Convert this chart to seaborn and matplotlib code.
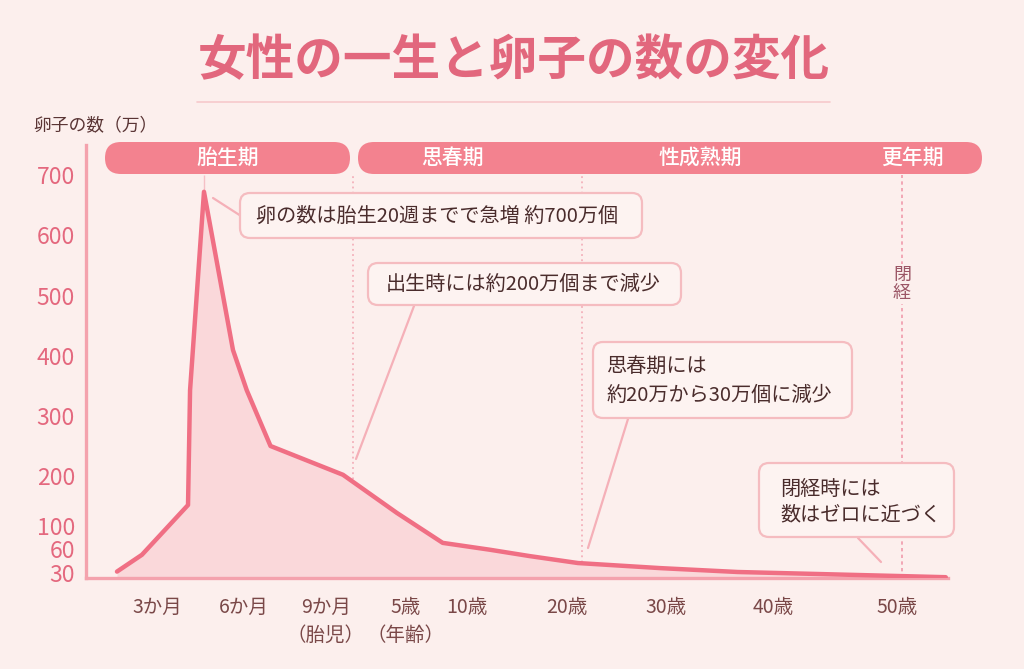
import numpy as np
import matplotlib
matplotlib.use("Agg")
import matplotlib.pyplot as plt
import seaborn as sns
from matplotlib.patches import FancyBboxPatch
from matplotlib.lines import Line2D
from matplotlib.transforms import IdentityTransform, ScaledTranslation

# ---------------- data ----------------
# timeline unit: fetal month (1..9), birth = 10, after birth = 10 + age in years
TIMELINE = [1.62, 2.48, 4.07, 4.14, 4.62, 5.62, 6.10, 6.97, 9.63, 14.15,
            18.4, 22.8, 26.5, 31.1, 39.4, 46.7, 56.2, 64.6]
EGGS_MAN = [28, 54, 142, 343, 672, 410, 343, 250, 202, 126,
            73, 62, 52, 41, 33, 27.5, 24, 21]  # 単位: 万

X_TICKS = [3, 6, 9, 15, 20, 30, 40, 50, 60]
X_LABELS = ["3か月", "6か月", "9か月\n（胎児）", "5歳\n（年齢）", "10歳",
            "20歳", "30歳", "40歳", "50歳"]
Y_TICKS = [30, 60, 100, 200, 300, 400, 500, 600, 700]

PHASE_LINES = [10, 31.5, 60.5]       # 出生, 思春期, 閉経
TITLE = "女性の一生と卵子の数の変化"
Y_TITLE = "卵子の数（万）"
PHASES = ["胎生期", "思春期", "性成熟期", "更年期"]
NOTES = ["卵の数は胎生20週までで急増 約700万個",
         "出生時には約200万個まで減少",
         "思春期には\n約20万から30万個に減少",
         "閉経時には\n数はゼロに近づく"]

# ---------------- scale breakpoints (layout) ----------------
XB_T = [0, 3, 6, 9, 10, 15, 20, 30, 40, 50, 60, 65, 80]
XB_P = [70, 157, 244, 326, 353, 406, 460, 567, 666, 773, 897, 950, 1110]
YB_V = [0, 20, 30, 60, 100, 200, 300, 400, 500, 600, 700, 1000]
YB_P = [-14, 0, 8, 27, 52, 102, 162, 222, 282, 343, 403, 583]

def xf(v): return np.interp(v, XB_T, XB_P)
def xi(p): return np.interp(p, XB_P, XB_T)
def yf(v): return np.interp(v, YB_V, YB_P)
def yi(p): return np.interp(p, YB_P, YB_V)

# ---------------- style ----------------
BG = "#fcefed"
PINK_LINE = "#f06f84"
PINK_FILL = "#fad8da"
SPINE = "#f4a2ad"
TICK_TXT = "#e4687e"
BROWN = "#7a4848"
DARK = "#4a2c2c"
PILL = "#f3828f"
LEADER = "#f5b0b8"

sns.set_theme(style="white")
plt.rcParams["font.family"] = ["Noto Sans CJK JP", "DejaVu Sans"]

W, H = 1024, 669
fig = plt.figure(figsize=(W / 100, H / 100), dpi=100, facecolor=BG)
ax = fig.add_axes([86 / W, 1 - 578 / H, (948 - 86) / W, (578 - 145) / H])
ax.set_facecolor(BG)
ax.set_xscale("function", functions=(xf, xi))
ax.set_yscale("function", functions=(yf, yi))

ax.fill_between(TIMELINE, EGGS_MAN, 20, color=PINK_FILL, lw=0, zorder=1)
sns.lineplot(x=TIMELINE, y=EGGS_MAN, ax=ax, color=PINK_LINE, lw=3.2,
             estimator=None, zorder=3)

ax.set_xlim(float(xi(86)), float(xi(948)))
ax.set_ylim(20, float(yi(433)))

# phase boundary dotted lines
ax.vlines(PHASE_LINES[:2], 20, 700, colors="#f2a7b3", linestyles=(0, (1.2, 2.2)), lw=1.1, zorder=0.5)
ax.vlines(PHASE_LINES[2:], 20, 700, colors="#f09aab", linestyles=(0, (2, 2)), lw=1.2, zorder=0.5)
ipk = int(np.argmax(EGGS_MAN))
ax.vlines([TIMELINE[ipk]], EGGS_MAN[ipk], 700, colors="#f5c0c6", lw=1, zorder=0.5)

ax.set_xticks(X_TICKS)
ax.set_xticklabels(X_LABELS, linespacing=1.45)
ax.set_yticks(Y_TICKS)
ax.set_yticklabels([str(v) for v in Y_TICKS])
ax.minorticks_off()
ax.set_xlabel("")
ax.set_ylabel("")
for s in ["top", "right"]:
    ax.spines[s].set_visible(False)
for s in ["left", "bottom"]:
    ax.spines[s].set_color(SPINE)
    ax.spines[s].set_linewidth(2.4)
ax.tick_params(axis="y", direction="in", length=12, width=1.8, color=SPINE,
               labelsize=16.5, labelcolor=TICK_TXT, pad=8)
ax.tick_params(axis="x", direction="out", length=8.5, width=1.8, color=SPINE,
               labelsize=14, labelcolor=BROWN, pad=5)
xlabels = ax.get_xticklabels()
for t in xlabels:
    t.set_verticalalignment("top")
# the "10歳" label sits a little right of its tick in the reference
xlabels[4].set_transform(xlabels[4].get_transform() +
                         ScaledTranslation(7 / 100, 0, fig.dpi_scale_trans))
# small vertical nudges so the crowded 30 / 60 labels do not collide
ylabels = ax.get_yticklabels()
ylabels[0].set_transform(ylabels[0].get_transform() +
                         ScaledTranslation(0, -2.5 / 100, fig.dpi_scale_trans))
ylabels[1].set_transform(ylabels[1].get_transform() +
                         ScaledTranslation(0, 1.5 / 100, fig.dpi_scale_trans))

# ---------------- decorations in pixel space ----------------
ID = IdentityTransform()

def fx(px): return px / W
def fy(py): return 1 - py / H

def box(x0, y0, x1, y1, fc, ec, r, lw=1.5, z=4):
    p = FancyBboxPatch((x0, H - y1), x1 - x0, y1 - y0,
                       boxstyle=f"round,pad=0,rounding_size={r}",
                       fc=fc, ec=ec, lw=lw, transform=ID, zorder=z)
    fig.add_artist(p)

def line(x0, y0, x1, y1):
    fig.add_artist(Line2D([x0, x1], [H - y0, H - y1], color=LEADER, lw=1.6,
                          transform=ID, zorder=3))

fig.text(fx(514), fy(61), TITLE, ha="center", va="center", fontsize=35,
         fontweight="bold", color="#e2677d")
fig.add_artist(Line2D([197, 830], [H - 102, H - 102], color="#f6c9cc", lw=1.2, transform=ID))
fig.text(fx(33), fy(126), Y_TITLE, ha="left", va="center", fontsize=12.8, color="#5a3535")

# phase pills
box(105, 142, 350, 174, PILL, "none", 16, lw=0)
box(358, 142, 982, 174, PILL, "none", 16, lw=0)
for label, cx in zip(PHASES, [228, 452, 700, 912]):
    fig.text(fx(cx), fy(158), label, ha="center", va="center", fontsize=15,
             color="white", fontweight="medium", zorder=6)

# menopause vertical label
fig.text(fx(902), fy(284), "閉\n経", ha="center", va="center", fontsize=13,
         color="#9b5565", linespacing=1.05,
         bbox=dict(fc=BG, ec="none", pad=1), zorder=5)

# annotation boxes
BOX_FC = "#fdf3f1"
BOX_EC = "#f5bcc0"
boxes = [(240, 193, 642, 238), (368, 263, 681, 305), (593, 342, 852, 418), (759, 463, 954, 537)]
text_pos = [(256, 216, 1.3), (386, 284, 1.3), (607, 381, 1.5), (780, 502, 1.25)]
leaders = [(213, 198, 241, 216), (414, 306, 356, 459), (628, 419, 588, 548), (858, 538, 881, 562)]
for (x0, y0, x1, y1), (tx, ty, ls), (a, b, c, d), note in zip(boxes, text_pos, leaders, NOTES):
    line(a, b, c, d)
    box(x0, y0, x1, y1, BOX_FC, BOX_EC, 10, lw=1.6)
    fig.text(fx(tx), fy(ty), note, ha="left", va="center", fontsize=14.5,
             color=DARK, linespacing=ls, zorder=6)

fig.savefig("out.png", dpi=100, facecolor=BG)
